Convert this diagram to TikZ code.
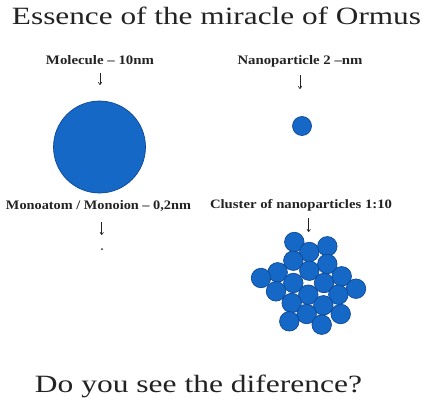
\documentclass[tikz,border=0pt]{standalone}
\usepackage{fontspec}
\setmainfont{Liberation Serif}
\usetikzlibrary{arrows.meta}
\definecolor{ballblue}{RGB}{22,104,198}
\definecolor{balledge}{RGB}{14,72,150}
\definecolor{txt}{RGB}{35,35,35}
\begin{document}
\begin{tikzpicture}[x=1pt,y=-1pt,
  ball/.style={circle, fill=ballblue, draw=balledge, line width=0.7pt, inner sep=0pt},
  cl/.style={ball, minimum size=19.5pt},
  lbl/.style={text=txt, inner sep=0pt, anchor=base, font=\bfseries},
  big/.style={text=txt, inner sep=0pt, anchor=base},
  dn/.style={-{To[length=3pt,width=4pt]}, line width=0.6pt, txt}]
\useasboundingbox (0,0) rectangle (425,401);
\fill[white] (0,0) rectangle (425,401);
\node[big] (title) at (216.5,25) {\resizebox{409pt}{17.5pt}{Essence of the miracle of Ormus}};
\node[big] (question) at (198.5,392) {\resizebox{327pt}{17.5pt}{Do you see the diference?}};
% labels
\node[lbl] (lmol) at (100,65) {\resizebox{108pt}{9pt}{Molecule – 10nm}};
\node[lbl] (lnano) at (300,65) {\resizebox{125pt}{9pt}{Nanoparticle 2 –nm}};
\node[lbl] (lmono) at (98.5,209) {\resizebox{185pt}{9pt}{Monoatom / Monoion – 0,2nm}};
\node[lbl] (lclus) at (301,208.3) {\resizebox{182pt}{9pt}{Cluster of nanoparticles 1:10}};
% shapes
\node[ball, minimum size=92pt] (mol) at (99.5,147) {};
\node[ball, minimum size=19pt] (nano) at (302,126) {};
\node[circle, fill=txt, inner sep=0pt, minimum size=2pt] (mono) at (102,249) {};
% arrows
\coordinate (a1s) at (100,73);  \coordinate (a1e) at (100,85);
\coordinate (a2s) at (300,75);  \coordinate (a2e) at (300,89);
\coordinate (a3s) at (101.7,222); \coordinate (a3e) at (101.7,235);
\coordinate (a4s) at (308.7,218); \coordinate (a4e) at (308.7,232);
\draw[dn] (a1s) -- (a1e);
\draw[dn] (a2s) -- (a2e);
\draw[dn] (a3s) -- (a3e);
\draw[dn] (a4s) -- (a4e);
% cluster
\foreach \x/\y [count=\i] in {294.3/242, 327.3/246.3, 309.3/252, 293.3/260.7, 327.3/264, 277.7/272.3, 309.3/270.7, 341.7/276.3, 261/278, 293.3/283, 324/283, 356/288.7, 276/291.3, 308.3/294.7, 338.3/294.7, 291.7/303, 323.3/305.3, 306.7/314, 340.7/314, 289.3/321.3, 321.7/324.7}
  \node[cl] (c\i) at (\x,\y) {};
\end{tikzpicture}
\end{document}
